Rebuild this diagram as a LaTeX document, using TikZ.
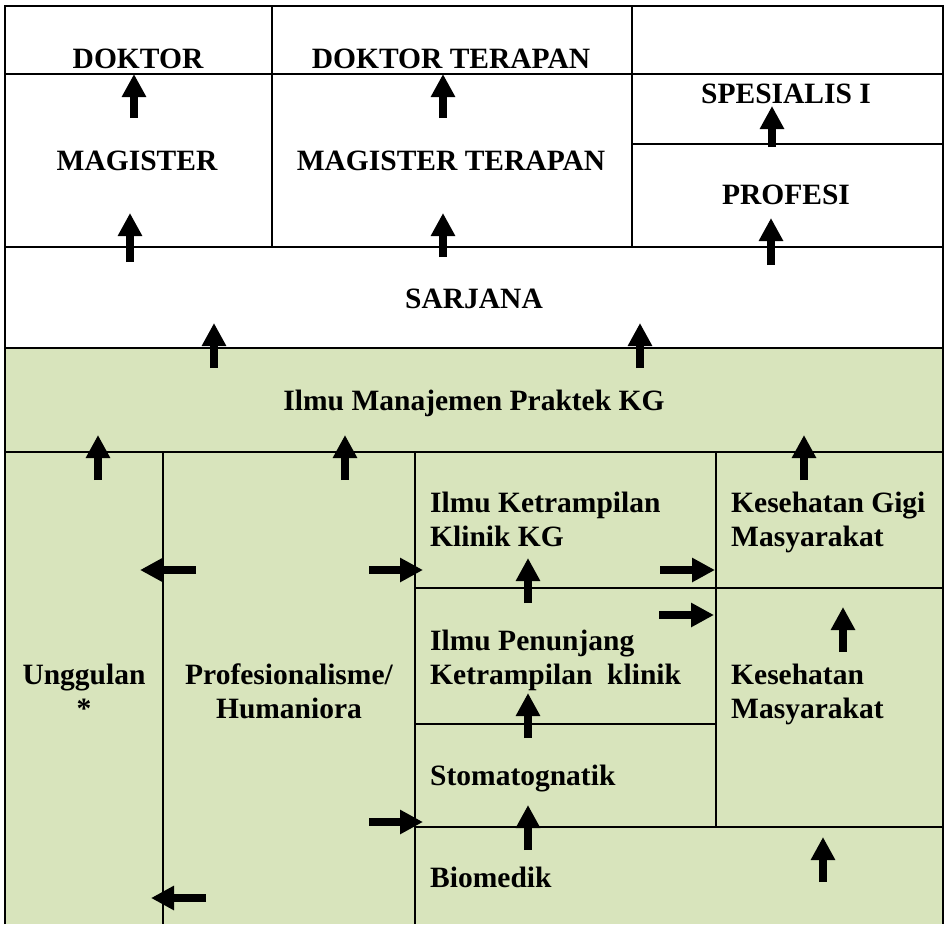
\documentclass[tikz,border=0pt]{standalone}
\usepackage{fontspec}
\setmainfont{Liberation Serif}
\usetikzlibrary{arrows.meta}
\definecolor{olivegreen}{RGB}{216,228,188}
\begin{document}
\begin{tikzpicture}[x=1pt,y=-1pt,
  frame/.style={line width=2pt},
  lbl/.style={inner sep=0pt, font=\fontsize{29.5}{34}\selectfont\bfseries},
  arr/.style={line width=8pt, -{Triangle[length=23pt 0 0,width=23pt 0 0]}}]
\useasboundingbox (0,0) rectangle (945,924);
\fill[white] (0,0) rectangle (945,924);
\fill[olivegreen] (5,348) rectangle (943,924);
% grid lines
\draw[frame] (5,924) -- (5,6) -- (943,6) -- (943,924);
\draw[frame] (5,74) -- (943,74);
\draw[frame] (632,144) -- (943,144);
\draw[frame] (5,247) -- (943,247);
\draw[frame] (5,348) -- (943,348);
\draw[frame] (5,452) -- (943,452);
\draw[frame] (415,588) -- (943,588);
\draw[frame] (415,724) -- (716,724);
\draw[frame] (415,827) -- (943,827);
\draw[frame] (272,6) -- (272,247);
\draw[frame] (632,6) -- (632,247);
\draw[frame] (163,452) -- (163,924);
\draw[frame] (415,452) -- (415,924);
\draw[frame] (716,452) -- (716,827);
% labels
\node[lbl, anchor=base] (doktor) at (138,68) {DOKTOR};
\node[lbl, anchor=base] (dokter) at (451,68) {DOKTOR TERAPAN};
\node[lbl, anchor=base] (spes) at (786,103) {SPESIALIS I};
\node[lbl, anchor=base] (mag) at (137,170) {MAGISTER};
\node[lbl, anchor=base] (magter) at (451,170) {MAGISTER TERAPAN};
\node[lbl, anchor=base] (prof) at (786,204) {PROFESI};
\node[lbl, anchor=base] (sarj) at (474,308) {SARJANA};
\node[lbl, anchor=base] (imp) at (474,410) {Ilmu Manajemen Praktek KG};
\node[lbl, anchor=base west] (ikka) at (430,512) {Ilmu Ketrampilan};
\node[lbl, anchor=base west] (ikkb) at (430,546) {Klinik KG};
\node[lbl, anchor=base west] (kgma) at (731,512) {Kesehatan Gigi};
\node[lbl, anchor=base west] (kgmb) at (731,546) {Masyarakat};
\node[lbl, anchor=base west] (ipka) at (430,650) {Ilmu Penunjang};
\node[lbl, anchor=base west] (ipkb) at (430,684) {Ketrampilan\ \ klinik};
\node[lbl, anchor=base] (unga) at (84,684) {Unggulan};
\node[lbl, anchor=base] (ungb) at (84,718) {*};
\node[lbl, anchor=base] (proa) at (289,684) {Profesionalisme/};
\node[lbl, anchor=base] (prob) at (289,718) {Humaniora};
\node[lbl, anchor=base west] (kma) at (731,684) {Kesehatan};
\node[lbl, anchor=base west] (kmb) at (731,718) {Masyarakat};
\node[lbl, anchor=base west] (stom) at (430,785) {Stomatognatik};
\node[lbl, anchor=base west] (bio) at (430,887) {Biomedik};
% arrows
\foreach \n/\xa/\ya/\xb/\yb in {
  1/134/118/134/74, 2/443/118/443/74, 3/772/147/772/106,
  4/130/262/130/213, 5/443/257/443/213, 6/771/265/771/218,
  7/214/368/214/323, 8/640/368/640/323,
  9/98/480/98/435, 10/345/480/345/435, 11/804/480/804/435,
  12/196/570/140/570, 13/369/570/423/570, 14/660/570/715/570,
  15/659/615/714/615, 16/528/603/528/558, 17/843/652/843/607,
  18/528/738/528/693, 19/528/850/528/805, 20/369/822/423/822,
  21/823/882/823/837, 22/206/898/151/898}{
  \coordinate (s\n) at (\xa,\ya);
  \coordinate (e\n) at (\xb,\yb);
  \draw[arr] (s\n) -- (e\n);
}
\end{tikzpicture}
\end{document}
